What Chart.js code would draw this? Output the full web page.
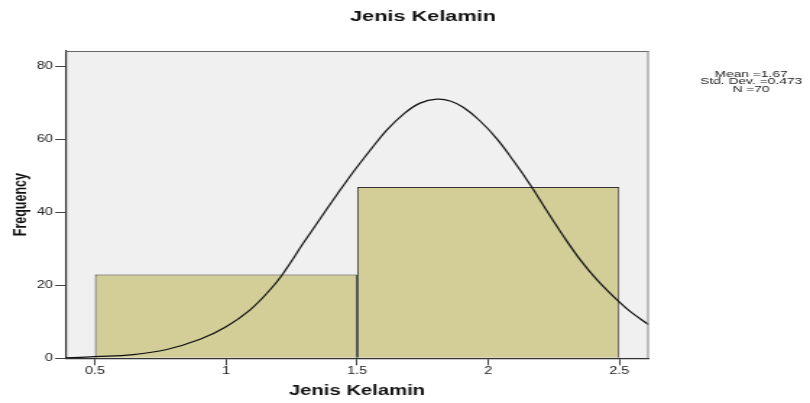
<!DOCTYPE html>
<html><head><meta charset="utf-8">
<script src="https://cdn.jsdelivr.net/npm/chart.js@4"></script>
<style>html,body{margin:0;padding:0;background:#fff;overflow:hidden}
#c{display:block}</style>
</head><body>
<canvas id="c" width="560" height="403" style="width:810px;height:403px"></canvas>
<script>
const chartTitle = 'Jenis Kelamin';
const xAxisTitle = 'Jenis Kelamin';
const yAxisTitle = 'Frequency';
const binCenters = [1, 2];
const binCounts = [23, 47];
const curveX = [0.387,0.5,0.646,0.774,0.901,0.997,1.092,1.168,1.213,1.295,1.359,1.422,1.486,1.55,1.613,1.677,1.74,1.804,1.855,1.906,1.969,2.033,2.097,2.16,2.224,2.287,2.351,2.415,2.491,2.542,2.612];
const curveY = [0.1,0.45,1.0,2.4,5.2,8.5,13.3,18.8,22.8,31.6,38.3,44.8,51.2,57.1,62.6,67.0,70.0,71.1,70.6,68.8,65.1,60.2,54.1,47.6,40.4,33.5,27.0,21.5,16.0,12.8,9.2];
const xTickValues = [0.5, 1, 1.5, 2, 2.5];
const xTickLabels = ['0.5', '1', '1.5', '2', '2.5'];
const yTickValues = [0, 20, 40, 60, 80];
const yTickLabels = ['0', '20', '40', '60', '80'];
const statsLines = ['Mean =1.67', 'Std. Dev. =0.473', 'N =70'];

const FONT = "'Liberation Sans', Arial, sans-serif";
const X_MIN = 0.387, X_MAX = 2.612, Y_MIN = 0, Y_MAX = 84.3;

const frame = {
  id: 'frame',
  beforeDraw(chart) {
    const a = chart.chartArea, c = chart.ctx;
    c.save(); c.fillStyle = '#F0F0F0';
    c.fillRect(a.left, a.top, a.right - a.left, a.bottom - a.top);
    c.restore();
  },
  afterDatasetsDraw(chart) {
    const a = chart.chartArea, c = chart.ctx;
    c.save();
    c.strokeStyle = '#666'; c.lineWidth = 1;
    c.beginPath();
    c.moveTo(a.left, a.top + 0.5); c.lineTo(a.right, a.top + 0.5);
    c.stroke();
    c.strokeStyle = '#888';
    c.beginPath();
    c.moveTo(a.right - 0.5, a.top); c.lineTo(a.right - 0.5, a.bottom);
    c.stroke();
    c.restore();
  },
  afterDraw(chart) {
    const c = chart.ctx;
    c.save();
    c.fillStyle = '#111';
    c.textAlign = 'center'; c.textBaseline = 'alphabetic';
    c.font = 'bold 15px ' + FONT;
    c.fillText(chartTitle, 292.4, 20.5);
    c.restore();
    c.save();
    c.fillStyle = '#222';
    c.textAlign = 'center'; c.textBaseline = 'alphabetic';
    c.font = 'normal 8.5px ' + FONT;
    c.translate(519.3, 0);
    c.scale(1.12, 1);
    statsLines.forEach((t, i) => c.fillText(t, 0, 76.8 + i * 7.5));
    c.restore();
  }
};

new Chart(document.getElementById('c'), {
  data: {
    datasets: [
      {
        type: 'line',
        data: curveX.map((x, i) => ({x, y: curveY[i]})),
        borderColor: '#111', borderWidth: 1.2,
        pointRadius: 0, fill: false, tension: 0.4,
        order: 0
      },
      {
        type: 'bar',
        data: binCenters.map((x, i) => ({x, y: binCounts[i]})),
        backgroundColor: '#D3CE98', borderColor: '#333', borderWidth: 1,
        borderSkipped: 'bottom',
        categoryPercentage: 1, barPercentage: 2, grouped: false,
        order: 1
      }
    ]
  },
  options: {
    responsive: false, animation: false, devicePixelRatio: 1,
    layout: {padding: {left: 0, top: 51, right: 111.5, bottom: 0}},
    plugins: {legend: {display: false}, tooltip: {enabled: false}, title: {display: false}},
    scales: {
      x: {
        type: 'linear', position: 'bottom', min: X_MIN, max: X_MAX, offset: false,
        afterBuildTicks: s => { s.ticks = xTickValues.map(v => ({value: v})); },
        afterFit: s => { s.height = 44.7; },
        ticks: {
          autoSkip: false, maxRotation: 0, padding: 0, color: '#222',
          font: {family: FONT, size: 10},
          callback: (v) => xTickLabels[xTickValues.indexOf(v)]
        },
        grid: {offset: false, drawOnChartArea: false, drawTicks: true, tickLength: 7, color: '#444', lineWidth: 1},
        border: {display: true, color: '#333', width: 1.2},
        title: {display: true, text: xAxisTitle, color: '#111',
          font: {family: FONT, size: 14, weight: 'bold'}, padding: {top: 0, bottom: 3.6}}
      },
      y: {
        type: 'linear', position: 'left', min: Y_MIN, max: Y_MAX,
        afterBuildTicks: s => { s.ticks = yTickValues.map(v => ({value: v})); },
        afterFit: s => { s.width = 45.1; },
        ticks: {
          autoSkip: false, padding: 1.5, color: '#222',
          font: {family: FONT, size: 10},
          callback: (v) => yTickLabels[yTickValues.indexOf(v)]
        },
        grid: {drawOnChartArea: false, drawTicks: true, tickLength: 7, color: '#444', lineWidth: 1},
        border: {display: true, color: '#333', width: 1.2},
        title: {display: true, text: yAxisTitle, color: '#111',
          font: {family: FONT, size: 12.5, weight: 'bold'}, padding: {top: 7.2, bottom: 0}}
      }
    }
  },
  plugins: [frame]
});
</script>
</body></html>
